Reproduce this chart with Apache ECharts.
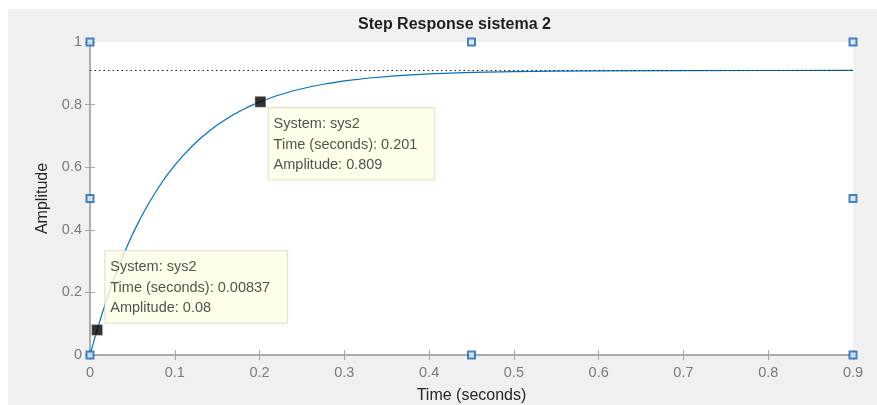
<!DOCTYPE html>
<html>
<head>
<meta charset="utf-8">
<script src="https://cdn.jsdelivr.net/npm/echarts@6/dist/echarts.min.js"></script>
<style>
  html, body { margin: 0; padding: 0; background: #ffffff; }
  #chart { width: 877px; height: 405px; }
</style>
</head>
<body>
<div id="chart"></div>
<script>
// Step response of sys2 (time in seconds, amplitude)
const timeSec = [0, 0.005, 0.01, 0.015, 0.02, 0.025, 0.03, 0.035, 0.04, 0.045, 0.05, 0.06, 0.07, 0.08, 0.09, 0.10,
  0.11, 0.12, 0.13, 0.14, 0.15, 0.16, 0.17, 0.18, 0.19, 0.20, 0.22, 0.24, 0.26, 0.28, 0.30,
  0.33, 0.36, 0.40, 0.45, 0.50, 0.55, 0.60, 0.70, 0.80, 0.90];
const amplitude = [0, 0.0486, 0.0947, 0.1383, 0.1795, 0.2185, 0.2555, 0.2904, 0.3236, 0.3549, 0.3846, 0.4392, 0.4882, 0.5320, 0.5713, 0.6065,
  0.6380, 0.6662, 0.6915, 0.7142, 0.7345, 0.7527, 0.7690, 0.7836, 0.7966, 0.8084, 0.8283, 0.8442, 0.8570, 0.8673, 0.8756,
  0.8850, 0.8918, 0.8979, 0.9027, 0.9054, 0.9070, 0.9079, 0.9087, 0.9090, 0.9091];

// Steady-state value (dotted reference line)
const finalValue = 0.909;

// Data tips
const tipSystem = ['sys2', 'sys2'];
const tipTime = [0.00837, 0.201];
const tipAmplitude = [0.08, 0.809];

// Axes selection handles (corners and edge midpoints, in data units)
const handleTime = [0, 0.45, 0.9, 0, 0.9, 0, 0.45, 0.9];
const handleAmp = [1, 1, 1, 0.5, 0.5, 0, 0, 0];

const FONT = '"Liberation Sans", Arial, Helvetica, sans-serif';
const AXIS_COLOR = '#a8a8a8';
const LABEL_COLOR = '#7a7a7a';

const chart = echarts.init(document.getElementById('chart'), null, { renderer: 'canvas' });

const tipPositions = [[14, -73], [14, 12]];
const tipData = tipTime.map((t, i) => ({
  value: [t, tipAmplitude[i]],
  label: { position: tipPositions[i] },
  tipSys: tipSystem[i]
}));

const baseAxis = {
  type: 'value',
  axisLine: { show: true, lineStyle: { color: AXIS_COLOR, width: 1.5 } },
  axisTick: { show: true, inside: true, length: 5, lineStyle: { color: AXIS_COLOR, width: 1 } },
  splitLine: { show: false }
};

chart.setOption({
  animation: false,
  backgroundColor: '#ffffff',
  graphic: [{
    type: 'rect', z: -10, silent: true,
    shape: { x: 8, y: 9, width: 869, height: 396 },
    style: { fill: '#f0f0f0' }
  }],
  title: {
    text: 'Step Response sistema 2',
    left: 353, top: 12,
    textStyle: { fontFamily: FONT, fontSize: 16, fontWeight: 'bold', color: '#1e1e1e' }
  },
  grid: {
    left: 90, top: 42, width: 763, height: 313,
    containLabel: false, outerBoundsMode: 'none',
    show: true, backgroundColor: '#ffffff', borderWidth: 0
  },
  xAxis: [
    Object.assign({}, baseAxis, {
      position: 'bottom', min: 0, max: 0.9, interval: 0.1,
      name: 'Time (seconds)', nameLocation: 'middle', nameGap: 33,
      nameTextStyle: { fontFamily: FONT, fontSize: 16, color: '#262626' },
      axisLabel: { fontFamily: FONT, fontSize: 14.5, color: LABEL_COLOR, margin: 10 }
    }),
    Object.assign({}, baseAxis, {
      position: 'top', min: 0, max: 0.9, interval: 0.1,
      axisLabel: { show: false }
    })
  ],
  yAxis: [
    Object.assign({}, baseAxis, {
      position: 'left', min: 0, max: 1, interval: 0.2,
      name: 'Amplitude', nameLocation: 'middle', nameGap: 30,
      nameTextStyle: { fontFamily: FONT, fontSize: 16, color: '#262626' },
      axisLabel: { fontFamily: FONT, fontSize: 14.5, color: LABEL_COLOR, margin: 8 }
    }),
    Object.assign({}, baseAxis, {
      position: 'right', min: 0, max: 1, interval: 0.2,
      axisLabel: { show: false }
    })
  ],
  series: [
    {
      name: 'sys2',
      type: 'line',
      data: timeSec.map((t, i) => [t, amplitude[i]]),
      smooth: false,
      showSymbol: false,
      lineStyle: { color: '#0072BD', width: 1.2 },
      z: 3,
      markLine: {
        silent: true,
        symbol: 'none',
        label: { show: false },
        lineStyle: { color: '#222222', type: [1.5, 3], width: 1 },
        data: [{ yAxis: finalValue }]
      }
    },
    {
      name: 'handles',
      type: 'scatter',
      data: handleTime.map((t, i) => [t, handleAmp[i]]),
      symbol: 'rect',
      symbolSize: 7,
      itemStyle: { color: '#d2e4f5', borderColor: '#1a67b0', borderWidth: 2 },
      z: 6,
      silent: true
    },
    {
      name: 'datatips',
      type: 'scatter',
      data: tipData,
      symbol: 'rect',
      symbolSize: 11,
      itemStyle: { color: '#000000', borderColor: '#e8e4c0', borderWidth: 0.6 },
      z: 8,
      label: {
        show: true,
        formatter: p => 'System: ' + p.data.tipSys + '\nTime (seconds): ' + p.value[0] + '\nAmplitude: ' + p.value[1],
        fontFamily: FONT,
        fontSize: 14.5,
        lineHeight: 20.5,
        color: '#262626',
        backgroundColor: '#ffffe6',
        borderColor: '#d9d9c8',
        borderWidth: 1,
        padding: [6, 17, 4, 5],
        align: 'left',
        verticalAlign: 'top'
      }
    }
  ]
});
</script>
</body>
</html>
